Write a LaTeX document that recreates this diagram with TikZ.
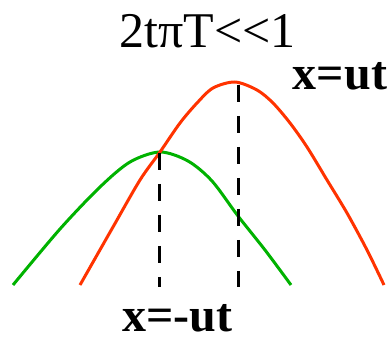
\documentclass[tikz,border=0pt]{standalone}
\usepackage{fontspec}
\setmainfont{Liberation Serif}
\definecolor{curvered}{RGB}{255,51,0}
\definecolor{curvegreen}{RGB}{0,178,0}

\begin{document}
\begin{tikzpicture}[x=1pt,y=-1pt,
  wave/.style={line width=3pt,line join=round},
  peakline/.style={line width=3pt,dash pattern=on 17pt off 14pt},
  lbl/.style={inner sep=0pt,anchor=base}]
\useasboundingbox (0,0) rectangle (389,342);
\draw[wave,curvegreen] plot[smooth] coordinates {(13,285) (60,229) (100,187) (130,162)
  (160,152) (188,161) (212,181) (238,216) (265,250) (291,285)};
\draw[wave,curvered] plot[smooth] coordinates {(80,285) (113,227) (140,180) (160,152)
  (180,123) (197,103) (213,88) (235,82) (257,90) (273,103) (290,123) (307,147)
  (327,180) (347,213) (367,250) (384,285)};
\coordinate (gpeak) at (159,153);
\coordinate (gfoot) at (159,287);
\coordinate (rpeak) at (238,85);
\coordinate (rfoot) at (238,287);
\draw[peakline] (gpeak) -- (gfoot);
\draw[peakline] (rpeak) -- (rfoot);
\node[lbl,font=\fontsize{50}{50}\selectfont] (title) at (207.5,48) {2tπT<{}<1};
\node[lbl,font=\fontsize{48}{48}\selectfont\bfseries] (fwd) at (340,90) {x=ut};
\node[lbl,font=\fontsize{48}{48}\selectfont\bfseries] (bwd) at (177.5,332) {x=-ut};
\end{tikzpicture}
\end{document}
